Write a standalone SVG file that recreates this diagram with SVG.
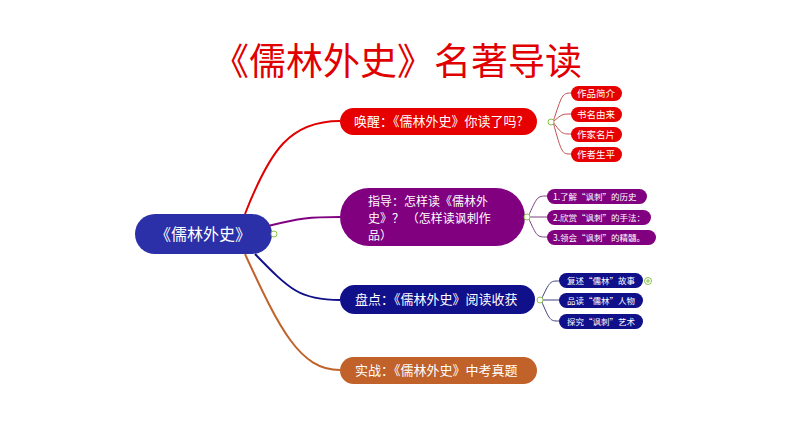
<svg xmlns="http://www.w3.org/2000/svg" width="794" height="447" viewBox="0 0 794 447">
<style>
text{font-family:"Microsoft YaHei","Noto Sans CJK SC",sans-serif;fill:#fff}
.m{font-size:13px}
.m2{font-size:12px}
.s{font-size:9.5px}
.s2{font-size:8.5px}
.c{fill:none;stroke-width:2}
.k{fill:none;stroke-width:1}
.knot{fill:#fff;stroke:#8bc34a;stroke-width:1}
</style>
<rect width="794" height="447" fill="#fff"/>
<text x="397" y="75" text-anchor="middle" style="font-family:'Noto Sans CJK SC',sans-serif;font-size:37px;fill:#e00000">《儒林外史》名著导读</text>
<g id="connectors">
<path class="c" stroke="#e00000" d="M245,214 C270,150 290,121 340,121"/>
<path class="c" stroke="#800080" d="M268,226 C300,218 310,217 340,217"/>
<path class="c" stroke="#10108a" d="M255,254 C290,290 300,300 340,300"/>
<path class="c" stroke="#c0622a" d="M245,254 C280,330 300,370 340,370"/>
<path class="k" stroke="#c05050" d="M553,122 C562,95 562,93 571,93 M553,122 C562,114 562,114 571,114 M553,122 C562,134 562,134 571,134 M553,122 C562,154 562,154 571,154"/>
<path class="k" stroke="#804080" d="M528,217 C537,197 537,196 547,196 M528,217 L547,217 M528,217 C537,237 537,237 547,237"/>
<path class="k" stroke="#404080" d="M541,300 C550,281 550,281 559,281 M541,300 L559,300 M541,300 C550,321 550,321 559,321"/>
</g>
<g id="root"><rect x="135" y="214" width="137" height="40" rx="20" fill="#2b2fa8"/><text x="203" y="240" text-anchor="middle" font-size="16">《儒林外史》</text><circle class="knot" cx="274" cy="234" r="3"/></g>
<g id="b1"><rect x="340" y="108" width="197" height="27" rx="13.5" fill="#e60000"/><text x="354" y="126" class="m">唤醒：《儒林外史》你读了吗?</text><circle class="knot" cx="551" cy="122" r="3"/></g>
<g id="b1s1"><rect x="571" y="86" width="51" height="15" rx="7.5" fill="#e60000"/><text x="596" y="97" class="s" text-anchor="middle">作品简介</text></g>
<g id="b1s2"><rect x="571" y="107" width="51" height="15" rx="7.5" fill="#e60000"/><text x="596" y="118" class="s" text-anchor="middle">书名由来</text></g>
<g id="b1s3"><rect x="571" y="127" width="51" height="15" rx="7.5" fill="#e60000"/><text x="596" y="138" class="s" text-anchor="middle">作家名片</text></g>
<g id="b1s4"><rect x="571" y="147" width="51" height="15" rx="7.5" fill="#e60000"/><text x="596" y="158" class="s" text-anchor="middle">作者生平</text></g>
<g id="b2"><rect x="340" y="188" width="185" height="58" rx="29" fill="#800080"/><text class="m2"><tspan x="368" y="206">指导：怎样读《儒林外</tspan><tspan x="368" y="223">史》？ （怎样读讽刺作</tspan><tspan x="368" y="240">品）</tspan></text><circle class="knot" cx="527" cy="217" r="3"/></g>
<g id="b2s1"><rect x="547" y="189" width="100" height="15" rx="7.5" fill="#800080"/><text x="553" y="200" class="s2">1.了解“讽刺”的历史</text></g>
<g id="b2s2"><rect x="547" y="210" width="104" height="15" rx="7.5" fill="#800080"/><text x="553" y="221" class="s2">2.欣赏“讽刺”的手法：</text></g>
<g id="b2s3"><rect x="547" y="230" width="109" height="15" rx="7.5" fill="#800080"/><text x="553" y="241" class="s2">3.领会“讽刺”的精髓。</text></g>
<g id="b3"><rect x="340" y="285" width="195" height="29" rx="14.5" fill="#10108a"/><text x="355" y="304" class="m">盘点：《儒林外史》阅读收获</text><circle class="knot" cx="540" cy="300" r="3"/></g>
<g id="b3s1"><rect x="559" y="273" width="84" height="15" rx="7.5" fill="#10108a"/><text x="601" y="284" class="s2" text-anchor="middle">复述“儒林”故事</text><circle class="knot" cx="648" cy="281" r="3.5"/><path d="M646,281h4M648,279v4" stroke="#8bc34a" stroke-width="1"/></g>
<g id="b3s2"><rect x="559" y="293" width="84" height="15" rx="7.5" fill="#10108a"/><text x="601" y="304" class="s2" text-anchor="middle">品读“儒林”人物</text></g>
<g id="b3s3"><rect x="559" y="314" width="84" height="15" rx="7.5" fill="#10108a"/><text x="601" y="325" class="s2" text-anchor="middle">探究“讽刺”艺术</text></g>
<g id="b4"><rect x="340" y="357" width="197" height="27" rx="13.5" fill="#c0622a"/><text x="355" y="375" class="m">实战：《儒林外史》中考真题</text></g>
</svg>
